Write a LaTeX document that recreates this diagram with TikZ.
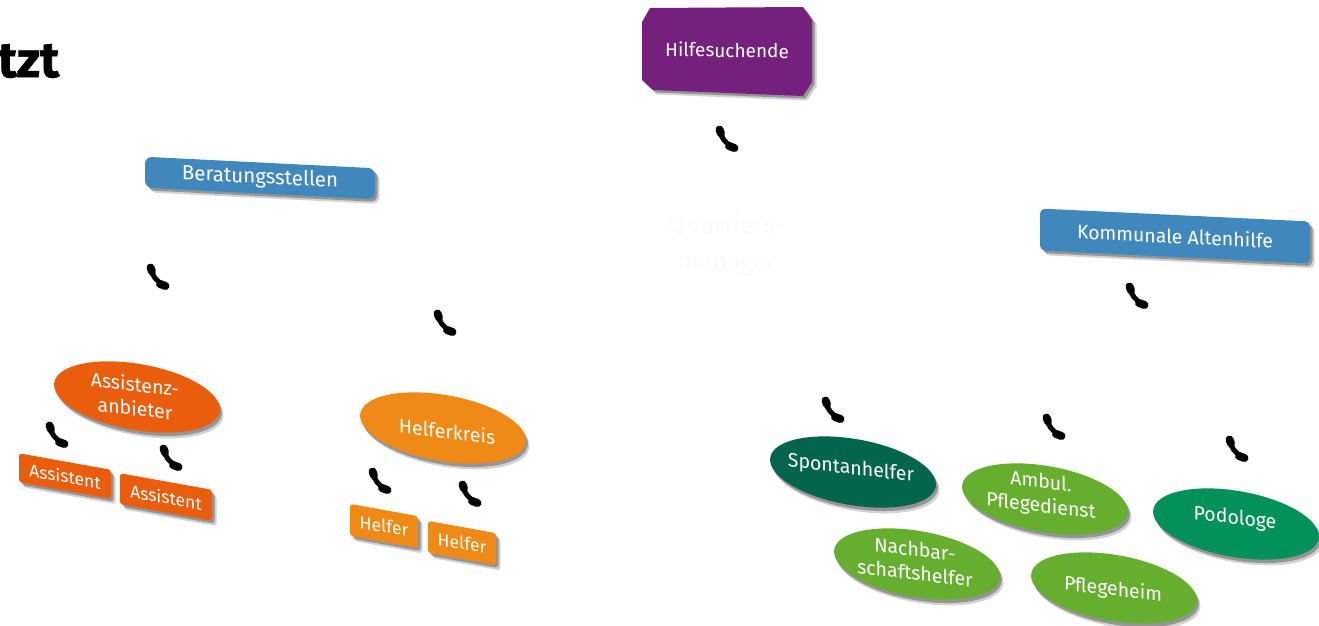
\documentclass[tikz,border=0pt]{standalone}
\usepackage{fontspec}
\setmainfont{Fira Sans}
\newfontfamily\titlefont[FakeBold=1.2]{Fira Sans Bold}
\usetikzlibrary{shapes.geometric}
\definecolor{blueb}{HTML}{3F87BD}
\definecolor{purp}{HTML}{75207C}
\definecolor{rust}{HTML}{E95D0C}
\definecolor{oran}{HTML}{F08A17}
\definecolor{dgreen}{HTML}{04654F}
\definecolor{mgreen}{HTML}{03915A}
\definecolor{lgreen}{HTML}{65AE2E}
\definecolor{shadeA}{HTML}{4A4A4A}
\tikzset{
  x=1pt,y=-1pt,
  oval/.style={ellipse,inner sep=0pt,minimum width=168pt,minimum height=66pt,rotate=-10},
  lbl/.style={text=white,align=center,font=\fontsize{19.5}{24}\selectfont,yslant=-0.12,transform shape,inner sep=0pt},
  tag/.style={rectangle,rounded corners=#1,inner sep=0pt,transform shape},
  tag/.default=4pt,
  soft1/.style={fill=shadeA,opacity=.25},
  soft2/.style={fill=shadeA,opacity=.45},
  phone/.pic={
    \draw[black,line width=5pt] (-7.5,-9) .. controls (-6,-1) and (-1,5) .. (6,8);
    \draw[black,line width=8pt,line cap=round] (-7.5,-9.5) -- (-6,-5.5);
    \draw[black,line width=8pt,line cap=round] (2,7) -- (7.5,9);
  }
}
\newcommand{\ovalnode}[5]{%
  \node[oval,soft1] at (#2) [xshift=4.5pt,yshift=-5pt] {};
  \node[oval,soft2] at (#2) [xshift=2.5pt,yshift=-3pt] {};
  \node[oval,fill=#3] (#1) at (#2) {};
  \node[lbl] (#1t) at (#4) {#5};
}
\newcommand{\tagnode}[9]{% name,pos,color,w,h,slant,radius,fontsize,text
  \node[tag=#7,soft1,minimum width=#4pt,minimum height=#5pt,yslant=#6] at (#2) [xshift=4.5pt,yshift=-4.5pt] {};
  \node[tag=#7,soft2,minimum width=#4pt,minimum height=#5pt,yslant=#6] at (#2) [xshift=2.5pt,yshift=-2.5pt] {};
  \node[tag=#7,fill=#3,minimum width=#4pt,minimum height=#5pt,yslant=#6,text=white,font=\fontsize{#8}{20}\selectfont] (#1) at (#2) {#9};
}
\begin{document}
\begin{tikzpicture}
\useasboundingbox (0,0) rectangle (1319,626);
\node[anchor=east,inner sep=0pt,font=\fontsize{50}{52}\titlefont] (title) at (59.5,61) {tzt};

% Hilfesuchende
\fill[soft1] (646.5,26.5) -- (654.5,12.5) -- (807.5,11.5) -- (816.5,24.5) -- (816.5,86.5) -- (807.5,100.5) -- (657.5,94.5) -- (646.5,84.5) -- cycle;
\fill[soft2] (644.5,24.5) -- (652.5,10.5) -- (805.5,9.5) -- (814.5,22.5) -- (814.5,84.5) -- (805.5,98.5) -- (655.5,92.5) -- (644.5,82.5) -- cycle;
\fill[purp] (642,22) -- (650,8) -- (803,7) -- (812,20) -- (812,82) -- (803,96) -- (653,90) -- (642,80) -- cycle;
\node[text=white,inner sep=0pt,font=\fontsize{19}{22}\selectfont,yslant=-0.015,transform shape] (hilfe) at (727,50) {Hilfesuchende};

\node[text=black!2,align=center,inner sep=0pt,font=\fontsize{25}{37}\selectfont] (quartier) at (727,245) {Quartiers-\\manager};

\tagnode{berat}{260,178}{blueb}{230}{31}{-0.05}{7pt}{20.5}{Beratungsstellen}
\tagnode{komm}{1175,236}{blueb}{270}{42}{-0.048}{5pt}{19.5}{Kommunale Altenhilfe}

\ovalnode{assist}{137,397}{rust}{135,396}{Assistenz-\\anbieter}
\ovalnode{helfk}{443,428}{oran}{447,431}{Helferkreis}
\ovalnode{spont}{853,472}{dgreen}{851,469}{Spontanhelfer}
\ovalnode{ambul}{1045,499}{lgreen}{1041,495}{Ambul.\\Pflegedienst}
\ovalnode{podo}{1236,524}{mgreen}{1235,519}{Podologe}
\ovalnode{nachb}{917,564}{lgreen}{915,561}{Nachbar-\\schaftshelfer}
\ovalnode{pflegeh}{1114,588}{lgreen}{1113,590}{Pflegeheim}

\tagnode{as1}{65,476}{rust}{92}{29}{-0.18}{3pt}{17.5}{Assistent}
\tagnode{as2}{166,497}{rust}{92}{31}{-0.18}{3pt}{17.5}{Assistent}
\tagnode{he1}{384,526}{oran}{68}{32}{-0.18}{3pt}{17.5}{Helfer}
\tagnode{he2}{462,543}{oran}{68}{32}{-0.18}{3pt}{17.5}{Helfer}

\pic (p1) at (727,139) {phone};
\pic (p2) at (158,277) {phone};
\pic (p3) at (445,323) {phone};
\pic (p4) at (1137,296) {phone};
\pic (p5) at (57,435) {phone};
\pic (p6) at (171,458) {phone};
\pic (p7) at (380,481) {phone};
\pic (p8) at (470,494) {phone};
\pic (p9) at (833,410) {phone};
\pic (p10) at (1054,427) {phone};
\pic (p11) at (1237,449) {phone};
\end{tikzpicture}
\end{document}
